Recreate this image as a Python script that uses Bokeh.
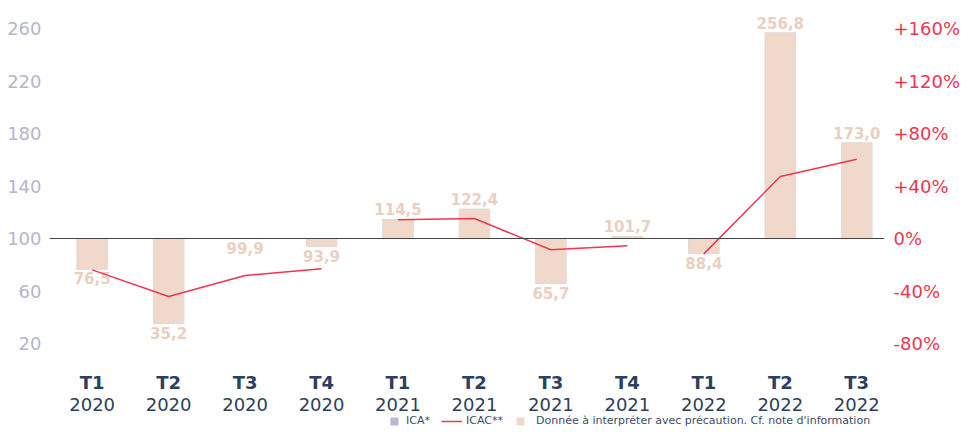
from bokeh.plotting import figure
from bokeh.models import (Range1d, LinearAxis, FixedTicker, Span, Legend,
                          LegendItem, ColumnDataSource)
from bokeh.embed import file_html
from bokeh.resources import INLINE
import math

# ---- data ----
quarters = ["T1", "T2", "T3", "T4", "T1", "T2", "T3", "T4", "T1", "T2", "T3"]
years = ["2020", "2020", "2020", "2020", "2021", "2021", "2021", "2021",
         "2022", "2022", "2022"]
ica_values = [76.5, 35.2, 99.9, 93.9, 114.5, 122.4, 65.7, 101.7, 88.4, 256.8, 173.0]
icac_pct = [-23.9, -44.2, -28.2, -23.1, 14.2, 15.2, -8.6, -5.6, -11.7, 47.2, 60.4]
left_ticks = [20, 60, 100, 140, 180, 220, 260]
right_ticks = [-80, -40, 0, 40, 80, 120, 160]

FONT = "DejaVu Sans"
NAVY = "#2d3f5e"
RED = "#f0364f"
PEACH = "#f0d9cb"

W, H = 963, 427
xs = list(range(len(ica_values)))
# 1.3125 px per unit, value 100 at y=238 px from top
PXU = 1.3125
y_hi = 100 + 238 / PXU
y_lo = 100 - (H - 238) / PXU

p = figure(width=W, height=H, output_backend="svg", toolbar_location=None,
           x_range=Range1d(-0.558, 10.363),
           y_range=Range1d(y_lo, y_hi),
           min_border_top=0, min_border_left=49, min_border_right=72,
           min_border_bottom=0, x_axis_location=None)
p.outline_line_color = None
p.grid.visible = False
p.background_fill_color = "white"
p.border_fill_color = "white"

p.extra_y_ranges = {"pct": Range1d(y_lo - 100, y_hi - 100)}

# left axis
ya = p.yaxis[0]
ya.ticker = FixedTicker(ticks=left_ticks)
ya.axis_line_color = None
ya.major_tick_line_color = None
ya.minor_tick_line_color = None
ya.major_label_text_font = FONT
ya.major_label_text_font_size = "18px"
ya.major_label_text_color = "#b5b5cb"
ya.major_label_standoff = 2

# right axis
ra = LinearAxis(y_range_name="pct", ticker=FixedTicker(ticks=right_ticks),
                major_label_overrides={t: (("+" if t > 0 else "") + f"{t}%") for t in right_ticks})
ra.axis_line_color = None
ra.major_tick_line_color = None
ra.minor_tick_line_color = None
ra.major_label_text_font = FONT
ra.major_label_text_font_size = "18px"
ra.major_label_text_color = RED
ra.major_label_standoff = 3
p.add_layout(ra, "right")

# bars (from base 100)
bar_src = ColumnDataSource(dict(x=xs, top=ica_values))
bars = p.vbar(x="x", bottom=100, top="top", width=0.4, source=bar_src,
              fill_color=PEACH, line_color="#dedad8", line_width=1)

# baseline
p.add_layout(Span(location=100, dimension="width", line_color="#444444", line_width=1))

# value labels
lab_src = ColumnDataSource(dict(
    x=xs, y=ica_values,
    t=[f"{v:.1f}".replace(".", ",") for v in ica_values],
    off=[-10 if v >= 100 else 9 for v in ica_values]))
p.text(x="x", y="y", text="t", y_offset="off", source=lab_src,
       text_align="center", text_baseline="alphabetic",
       text_font={"value": FONT}, text_font_size="15px", text_font_style="bold",
       text_color="#e9d0c1")

# category labels (two rows, below the chart area)
cat_src = ColumnDataSource(dict(x=xs, q=quarters, yr=years, y=[y_lo] * len(xs)))
p.text(x="x", y="y", text="q", y_offset=-45, source=cat_src,
       text_align="center", text_baseline="alphabetic",
       text_font={"value": FONT}, text_font_size="18px", text_font_style="bold",
       text_color=NAVY)
p.text(x="x", y="y", text="yr", y_offset=-23, source=cat_src,
       text_align="center", text_baseline="alphabetic",
       text_font={"value": FONT}, text_font_size="18px", text_font_style="normal",
       text_color=NAVY)

# ICAC line, broken between years
lx, ly = [], []
for i in xs:
    if i > 0 and years[i] != years[i - 1]:
        lx.append(math.nan)
        ly.append(math.nan)
    lx.append(i)
    ly.append(icac_pct[i])
line = p.line(lx, ly, y_range_name="pct", line_color=RED, line_width=1.5)

# swatch renderers for the legend (no drawable data)
nan = [math.nan]
ica_dummy = p.quad(left=nan, right=nan, top=nan, bottom=nan, fill_color="#b8b8d0",
                   line_color=None)
peach_dummy = p.quad(left=nan, right=nan, top=nan, bottom=nan, fill_color=PEACH,
                     line_color=None)

def make_legend(label, rend, x, gw, standoff):
    lg = Legend(items=[LegendItem(label=label, renderers=[rend], index=0)],
                location=(x, 0), orientation="horizontal",
                glyph_width=gw, glyph_height=10, label_height=10,
                label_standoff=standoff, padding=0, margin=0, spacing=0,
                border_line_color=None, background_fill_alpha=0,
                label_text_font=FONT, label_text_font_size="11px",
                label_text_color="#3d4b6b")
    p.add_layout(lg, "center")

make_legend("ICA*", ica_dummy, 340, 10, 7)
make_legend("ICAC**", line, 392, 21, 4)
make_legend("Donnée à interpréter avec précaution. Cf. note d'information", peach_dummy, 466, 10, 11)

open("out.html", "w").write(file_html(p, INLINE))
